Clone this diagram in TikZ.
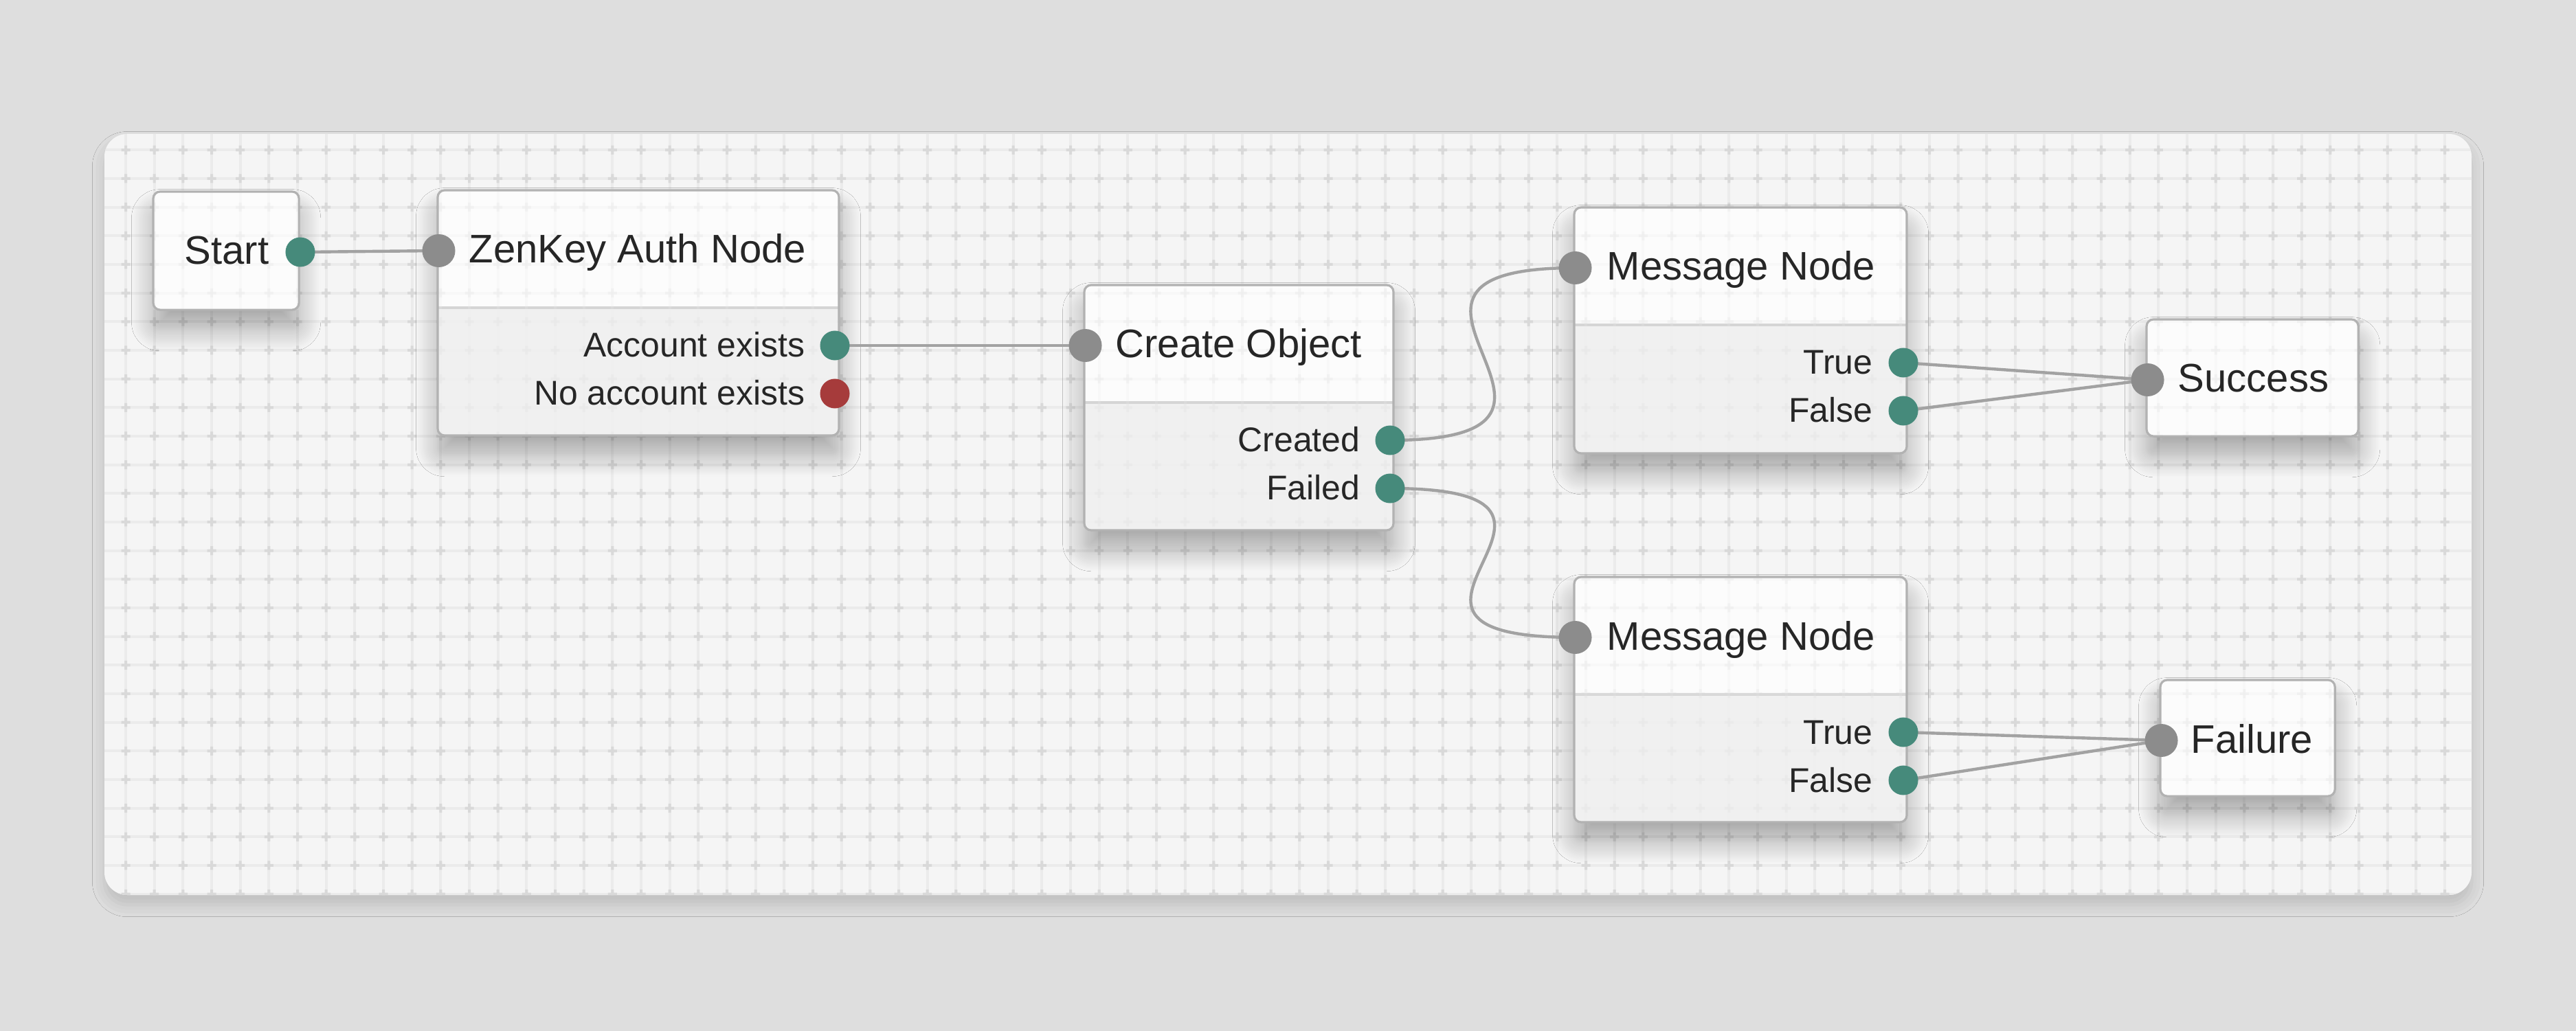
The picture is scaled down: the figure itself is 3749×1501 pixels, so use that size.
\documentclass[tikz,border=0pt]{standalone}
\usepackage{fontspec}
\setmainfont{Liberation Sans}
\usetikzlibrary{shadows.blur}
\definecolor{outerbg}{HTML}{DEDEDE}
\definecolor{panelbg}{HTML}{F5F5F5}
\definecolor{gridln}{HTML}{EBEBEB}
\definecolor{gridx}{HTML}{D9D9D9}
\definecolor{headbg}{HTML}{FCFCFC}
\definecolor{bodybg}{HTML}{F0F0F0}
\definecolor{boxborder}{HTML}{B2B2B2}
\definecolor{divcol}{HTML}{D5D5D5}
\definecolor{tealport}{HTML}{468A7B}
\definecolor{redport}{HTML}{A63B3B}
\definecolor{grayport}{HTML}{8C8C8C}
\definecolor{wirecol}{HTML}{A2A2A2}
\definecolor{txt}{HTML}{262626}
\pgfdeclarelayer{boxes}
\pgfdeclarelayer{wires}
\pgfsetlayers{boxes,wires,main}
\tikzset{
  boxbase/.style={rectangle, rounded corners=0.1cm, fill=bodybg, draw=none,
    inner sep=0pt, outer sep=0pt, anchor=north west,
    blur shadow={shadow xshift=0pt, shadow yshift=-8pt, shadow blur radius=9pt,
      shadow blur steps=16, shadow opacity=32}},
  boxedge/.style={draw=boxborder, line width=0.9pt, rounded corners=0.1cm},
  divline/.style={draw=divcol, line width=1.1pt},
  inport/.style={circle, fill=grayport, minimum size=0.48cm, inner sep=0pt},
  okport/.style={circle, fill=tealport, minimum size=0.43cm, inner sep=0pt},
  badport/.style={circle, fill=redport, minimum size=0.43cm, inner sep=0pt},
  title/.style={font=\fontsize{16.5}{19}\selectfont, text=txt, inner sep=0pt, anchor=base west},
  outlabel/.style={font=\fontsize{14.2}{17}\selectfont, text=txt, inner sep=0pt, anchor=base east},
  wire/.style={draw=wirecol, line width=1.25pt},
}
\newcommand\gridpaint{%
  \foreach \i in {0,...,81} \fill[gridln] ({183+41.667*\i-2},190) rectangle ++(4,1120);
  \foreach \j in {0,...,26} \fill[gridln] (150,{218.3+41.667*\j-2}) rectangle ++(3450,4);
  \fill[gridx] \foreach \i in {0,...,81} { \foreach \j in {0,...,26} {
      ({183+41.667*\i-6.5},{218.3+41.667*\j-2}) rectangle ++(13,4)
      ({183+41.667*\i-2},{218.3+41.667*\j-6.5}) rectangle ++(4,13) } };
}
\newcommand\bigbox[5]{%
  \node[boxbase, minimum width=#4*0.01cm, minimum height=#5*0.01cm] (#1) at (#2,#3) {};
  \begin{scope}
    \clip[rounded corners=0.1cm] (#1.north west) rectangle (#1.south east);
    \fill[headbg] (#1.north west) rectangle ++(#4,171);
  \end{scope}
  \draw[divline] (#1.north west) ++(0,171) -- ++(#4,0);
}
\begin{document}
\begin{tikzpicture}[x=0.01cm, y=-0.01cm]
\useasboundingbox (0,0) rectangle (3749,1501);
\begin{pgfonlayer}{boxes}
  \fill[outerbg] (0,0) rectangle (3749,1501);
  \fill[panelbg, rounded corners=0.33cm,
    blur shadow={shadow xshift=0pt, shadow yshift=-4pt, shadow blur radius=5pt,
      shadow opacity=14}]
    (152,195) rectangle (3597,1303);
  \begin{scope}
    \clip[rounded corners=0.33cm] (152,195) rectangle (3597,1303);
    \gridpaint
  \end{scope}
  % simple boxes
  \node[boxbase, fill=headbg, minimum width=2.12cm, minimum height=1.72cm] (st) at (223,279) {};
  \node[boxbase, fill=headbg, minimum width=3.08cm, minimum height=1.70cm] (su) at (3124,465) {};
  \node[boxbase, fill=headbg, minimum width=2.54cm, minimum height=1.69cm] (fa) at (3144,990) {};
  % boxes with outcomes
  \bigbox{zk}{637}{277}{584}{357}
  \bigbox{co}{1578}{415}{450}{357}
  \bigbox{m1}{2291}{302}{484}{358}
  \bigbox{m2}{2291}{840}{484}{357}
  % faint grid seen through the boxes
  \begin{scope}
    \clip (st.north west) rectangle (st.south east)
          (su.north west) rectangle (su.south east)
          (fa.north west) rectangle (fa.south east)
          (zk.north west) rectangle (zk.south east)
          (co.north west) rectangle (co.south east)
          (m1.north west) rectangle (m1.south east)
          (m2.north west) rectangle (m2.south east);
    \begin{scope}[opacity=0.2]
      \gridpaint
    \end{scope}
  \end{scope}
  \foreach \b in {st,su,fa,zk,co,m1,m2}
    \draw[boxedge] (\b.north west) rectangle (\b.south east);
\end{pgfonlayer}

% titles
\node[title] (st-t) at (268,385) {Start};
\node[title] (zk-t) at (682,383) {ZenKey Auth Node};
\node[title] (co-t) at (1623,521) {Create Object};
\node[title] (m1-t) at (2338,408) {Message Node};
\node[title] (m2-t) at (2338,946) {Message Node};
\node[title] (su-t) at (3169,571) {Success};
\node[title] (fa-t) at (3188,1096) {Failure};

% outcome labels
\node[outlabel] (zk-l1) at (1172,520) {Account exists};
\node[outlabel] (zk-l2) at (1172,590) {No account exists};
\node[outlabel] (co-l1) at (1980,658) {Created};
\node[outlabel] (co-l2) at (1980,728) {Failed};
\node[outlabel] (m1-l1) at (2726,545) {True};
\node[outlabel] (m1-l2) at (2726,615) {False};
\node[outlabel] (m2-l1) at (2726,1083) {True};
\node[outlabel] (m2-l2) at (2726,1153) {False};

% ports
\node[okport] (st-o) at (437,367) {};
\node[inport] (zk-i) at (638.5,365) {};
\node[okport] (zk-o1) at (1215,503) {};
\node[badport] (zk-o2) at (1215,573) {};
\node[inport] (co-i) at (1579.5,503) {};
\node[okport] (co-o1) at (2023,641) {};
\node[okport] (co-o2) at (2023,711) {};
\node[inport] (m1-i) at (2292.5,390) {};
\node[okport] (m1-o1) at (2770,528) {};
\node[okport] (m1-o2) at (2770,598) {};
\node[inport] (m2-i) at (2292.5,928) {};
\node[okport] (m2-o1) at (2770,1066) {};
\node[okport] (m2-o2) at (2770,1136) {};
\node[inport] (su-i) at (3125.5,553) {};
\node[inport] (fa-i) at (3145.5,1078) {};

% connectors
\begin{pgfonlayer}{wires}
  \draw[wire] (st-o.center) -- (zk-i.center);
  \draw[wire] (zk-o1.center) -- (co-i.center);
  \draw[wire] (co-o1.center) .. controls +(370,0) and +(-370,0) .. (m1-i.center);
  \draw[wire] (co-o2.center) .. controls +(370,0) and +(-370,0) .. (m2-i.center);
  \draw[wire] (m1-o1.center) -- (su-i.center);
  \draw[wire] (m1-o2.center) -- (su-i.center);
  \draw[wire] (m2-o1.center) -- (fa-i.center);
  \draw[wire] (m2-o2.center) -- (fa-i.center);
\end{pgfonlayer}
\end{tikzpicture}
\end{document}
